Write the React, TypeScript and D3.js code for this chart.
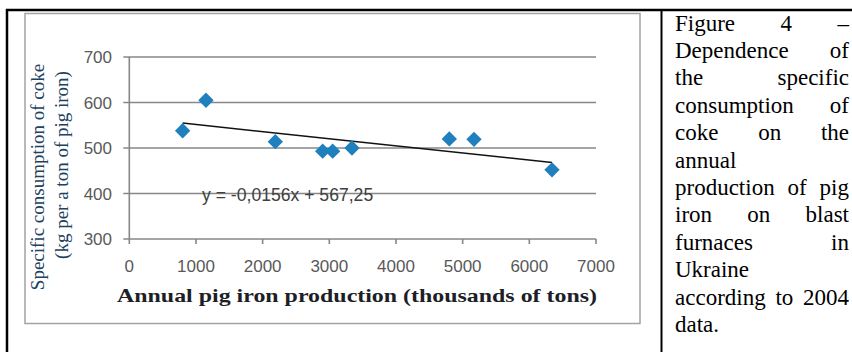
import * as d3 from 'd3';
import { useEffect, useRef } from 'react';

// pig iron production (thousands of tons) vs specific coke consumption (kg/t)
const production = [800, 1150, 2190, 2900, 3050, 3340, 4800, 5170, 6340];
const cokeRate = [538, 605, 514, 493, 493, 500, 520, 519, 452];
const xTicks = [0, 1000, 2000, 3000, 4000, 5000, 6000, 7000];
const yTicks = [300, 400, 500, 600, 700];
const trendSlope = -0.0156;
const trendIntercept = 567.25;
const trendLabel = 'y = -0,0156x + 567,25';

const xTitle = 'Annual pig iron production (thousands of tons)';
const yTitle = ['Specific consumption of coke', '(kg per a ton of pig iron)'];

// caption lines, true = justified
const captionLines: [string, boolean][] = [
  ['Figure 4 –', true],
  ['Dependence of', true],
  ['the specific', true],
  ['consumption of', true],
  ['coke on the', true],
  ['annual', false],
  ['production of pig', true],
  ['iron on blast', true],
  ['furnaces in', true],
  ['Ukraine', false],
  ['according to 2004', true],
  ['data.', false],
];

export default function App() {
  const ref = useRef<SVGSVGElement>(null);

  const width = 852;
  const height = 352;
  const x = d3.scaleLinear().domain([0, 7000]).range([129.3, 596]);
  const y = d3.scaleLinear().domain([300, 700]).range([239, 57]);

  const gridColor = '#878787';
  const tickColor = '#595959';
  const markerColor = '#1f80bd';
  const points = production.map((p, i) => ({ p, c: cokeRate[i] }));
  const xMin = d3.min(production)!;
  const xMax = d3.max(production)!;

  useEffect(() => {
    const svg = d3.select(ref.current);
    svg.selectAll('g.caption').remove();
    const g = svg.append('g').attr('class', 'caption');
    const left = 675;
    const right = 849;
    const lineHeight = 27.4;
    const font = { family: '"Liberation Serif", "Times New Roman", serif', size: 23 };

    captionLines.forEach(([line, justify], i) => {
      const by = 30.5 + i * lineHeight;
      const words = line.split(' ');
      const nodes = words.map(w =>
        g
          .append('text')
          .attr('font-family', font.family)
          .attr('font-size', font.size)
          .attr('fill', '#000')
          .attr('y', by)
          .text(w)
      );
      const widths = nodes.map(n => (n.node() as SVGTextElement).getComputedTextLength());
      if (justify && words.length > 1) {
        const gap = (right - left - d3.sum(widths)) / (words.length - 1);
        let cx = left;
        nodes.forEach((n, k) => {
          n.attr('x', cx);
          cx += widths[k] + gap;
        });
      } else {
        let cx = left;
        nodes.forEach((n, k) => {
          n.attr('x', cx);
          cx += widths[k] + 5.75;
        });
      }
    });
  }, []);

  const line = d3
    .line<number>()
    .x(d => x(d))
    .y(d => y(trendSlope * d + trendIntercept));

  // square turned 45°, like Excel's diamond marker
  const diamond = d3.symbol(d3.symbolSquare, 118)();

  return (
    <svg
      ref={ref}
      width={width}
      height={height}
      style={{ position: 'absolute', left: 0, top: 0, background: '#fff' }}
    >
      <rect x={0} y={0} width={width} height={height} fill="#fff" />

      {/* table borders */}
      <line x1={6} x2={852} y1={10} y2={10} stroke="#000" strokeWidth={2.5} />
      <line x1={7} x2={7} y1={9} y2={352} stroke="#000" strokeWidth={2.5} />
      <line x1={661.5} x2={661.5} y1={9} y2={352} stroke="#000" strokeWidth={2} />

      {/* chart frame */}
      <rect x={25} y={13.5} width={615} height={310} fill="#fff" stroke="#a3a3a3" strokeWidth={1.5} />

      {/* grid lines and y ticks */}
      {yTicks.map(t => (
        <line key={t} x1={x(0) - 6} x2={x(7000)} y1={y(t)} y2={y(t)} stroke={gridColor} strokeWidth={1.6} />
      ))}
      <line x1={x(0)} x2={x(0)} y1={y(700)} y2={y(300)} stroke={gridColor} strokeWidth={1.6} />
      {xTicks.map(t => (
        <line key={t} x1={x(t)} x2={x(t)} y1={y(300)} y2={y(300) + 5} stroke={gridColor} strokeWidth={1.6} />
      ))}

      {/* tick labels */}
      {yTicks.map(t => (
        <text
          key={t}
          x={112}
          y={y(t) + 6}
          textAnchor="end"
          fontFamily='"Liberation Sans", Arial, sans-serif'
          fontSize={17}
          fill={tickColor}
        >
          {t}
        </text>
      ))}
      {xTicks.map(t => (
        <text
          key={t}
          x={x(t)}
          y={271.5}
          textAnchor="middle"
          fontFamily='"Liberation Sans", Arial, sans-serif'
          fontSize={17}
          fill={tickColor}
        >
          {t}
        </text>
      ))}

      {/* trend line */}
      <path d={line([xMin, xMax]) ?? ''} fill="none" stroke="#111" strokeWidth={1.5} />

      {/* points */}
      {points.map((d, i) => (
        <path
          key={i}
          d={diamond ?? ''}
          transform={`translate(${x(d.p)},${y(d.c)}) rotate(45)`}
          fill={markerColor}
        />
      ))}

      {/* equation */}
      <text
        x={202}
        y={201}
        fontFamily='"Liberation Sans", Arial, sans-serif'
        fontSize={17.6}
        fill="#404040"
      >
        {trendLabel}
      </text>

      {/* axis titles */}
      <text
        x={357}
        y={302}
        textAnchor="middle"
        fontFamily='"Liberation Serif", "Times New Roman", serif'
        fontWeight="bold"
        fontSize={19}
        textLength={480}
        lengthAdjust="spacingAndGlyphs"
        fill="#1e1e26"
      >
        {xTitle}
      </text>
      <text
        transform="translate(43.5,177) rotate(-90)"
        textAnchor="middle"
        fontFamily='"Liberation Serif", "Times New Roman", serif'
        fontSize={19}
        fill="#22415e"
      >
        {yTitle[0]}
      </text>
      <text
        transform="translate(68,165) rotate(-90)"
        textAnchor="middle"
        fontFamily='"Liberation Serif", "Times New Roman", serif'
        fontSize={19}
        fill="#22415e"
      >
        {yTitle[1]}
      </text>
    </svg>
  );
}
